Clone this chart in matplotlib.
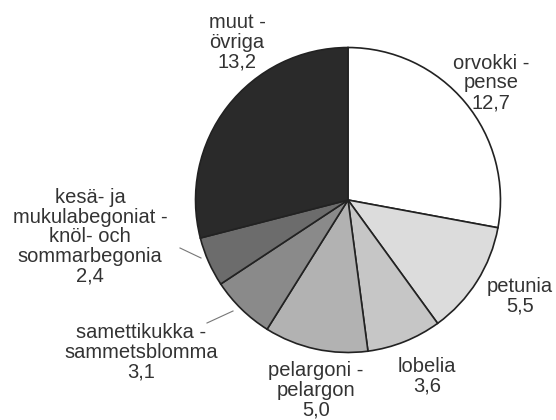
import numpy as np
import matplotlib.pyplot as plt

plt.rcParams['font.family'] = ['Liberation Sans', 'DejaVu Sans']

labels = ['orvokki -\npense', 'petunia', 'lobelia', 'pelargoni -\npelargon',
          'samettikukka -\nsammetsblomma',
          'kesä- ja\nmukulabegoniat -\nknöl- och\nsommarbegonia', 'muut -\növriga']
values = [12.7, 5.5, 3.6, 5.0, 3.1, 2.4, 13.2]
colors = ['#ffffff', '#dcdcdc', '#c6c6c6', '#b2b2b2', '#8a8a8a', '#6c6c6c', '#2a2a2a']

# label centres (pixels from top-left of the 556x420 image)
label_pos = [(491, 83), (520, 296), (427, 376), (316, 390), (141, 352), (90, 237), (237, 42)]

W, H = 556, 420
fig = plt.figure(figsize=(W / 100, H / 100), dpi=100)
cx, cy, r = 348, 200, 154
ax = fig.add_axes([(cx - r) / W, (H - cy - r) / H, 2 * r / W, 2 * r / H])
ax.pie(values, colors=colors, startangle=90, counterclock=False,
       wedgeprops=dict(edgecolor='#222222', linewidth=1.2))
ax.set_xlim(-1.01, 1.01)
ax.set_ylim(-1.01, 1.01)

for lab, v, (x, y) in zip(labels, values, label_pos):
    txt = lab + '\n' + ('%.1f' % v).replace('.', ',')
    fig.text(x / W, 1 - y / H, txt, ha='center', va='center', fontsize=14.5,
             color='#333333', linespacing=1.05)

# leader lines for the two small slices
for (x0, y0), (x1, y1) in [((180, 248), (201, 258)), ((207, 323), (233, 311))]:
    fig.add_artist(plt.Line2D([x0 / W, x1 / W], [1 - y0 / H, 1 - y1 / H],
                              color='#777777', linewidth=0.8))

fig.savefig('out.png', dpi=100)
